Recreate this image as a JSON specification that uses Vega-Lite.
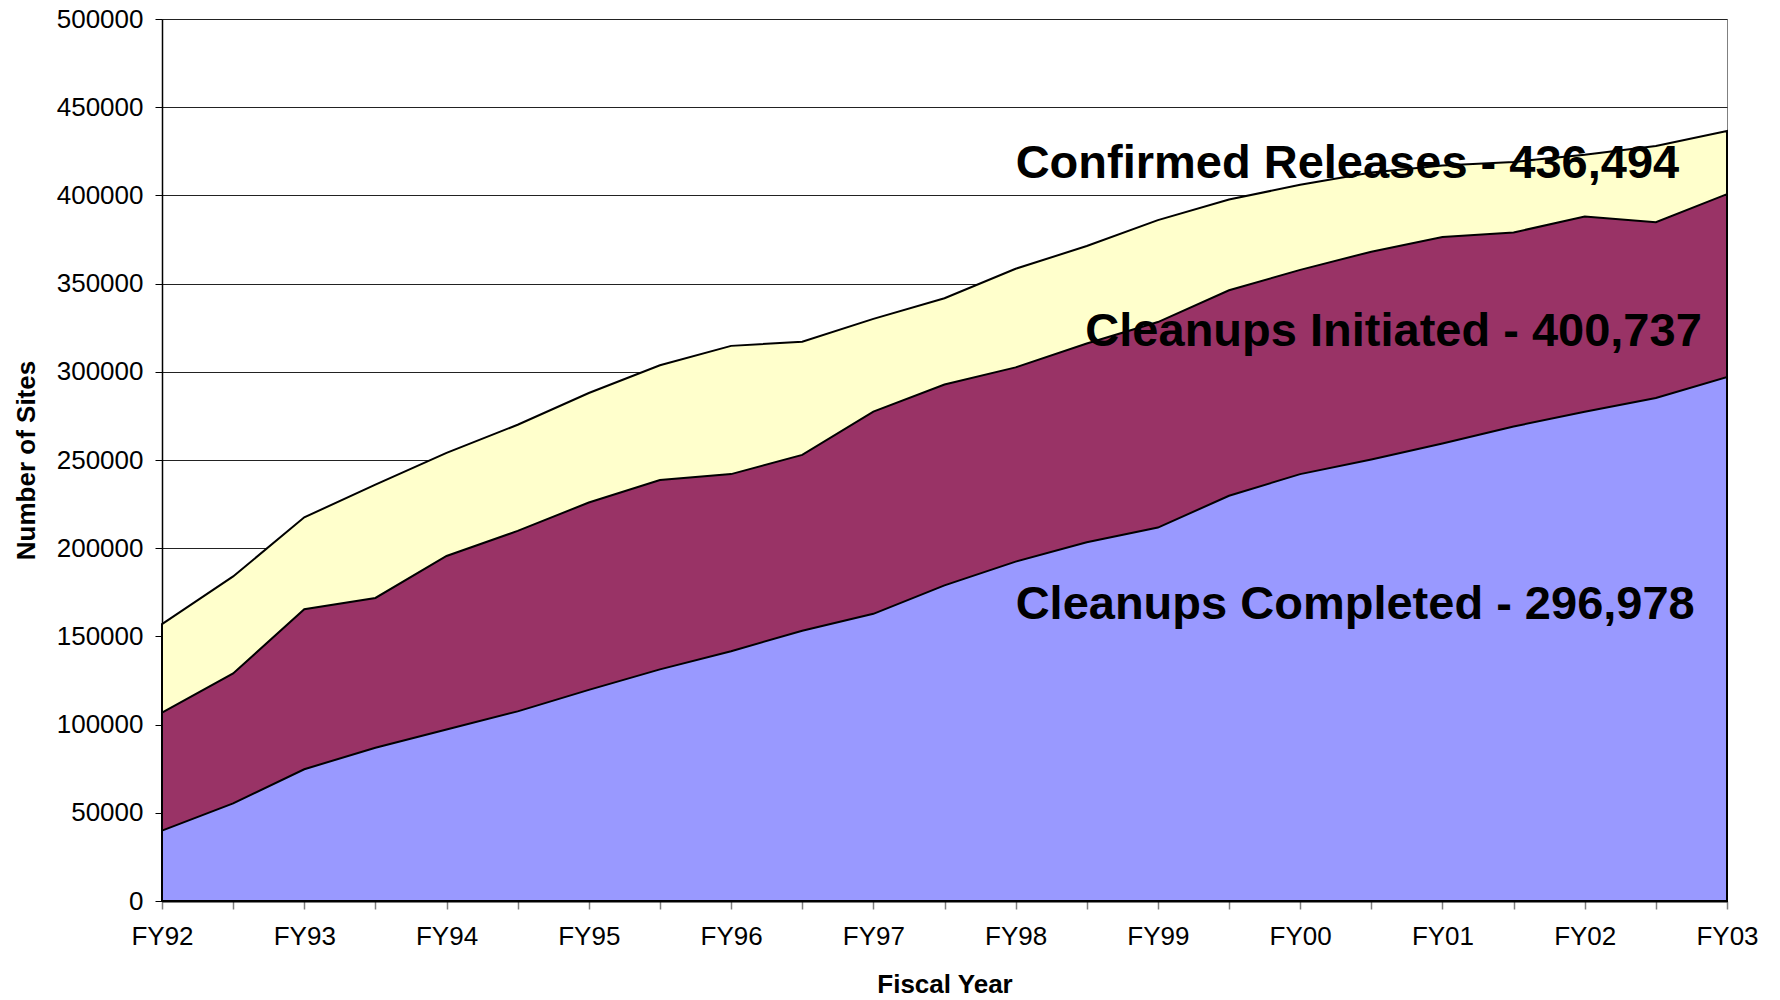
{
  "$schema": "https://vega.github.io/schema/vega-lite/v6.json",
  "width": 1565,
  "height": 882,
  "autosize": "none",
  "padding": {"left": 162, "top": 19, "right": 53, "bottom": 99},
  "background": "white",
  "config": {
    "view": {"stroke": "#808080", "strokeWidth": 1},
    "font": "Liberation Sans"
  },
  "datasets": {
    "series": [
      {"t": 0, "confirmed": 157000, "initiated": 106800, "completed": 39900},
      {"t": 1, "confirmed": 184000, "initiated": 129000, "completed": 55300},
      {"t": 2, "confirmed": 217500, "initiated": 165400, "completed": 74700},
      {"t": 3, "confirmed": 236000, "initiated": 171800, "completed": 86900},
      {"t": 4, "confirmed": 254000, "initiated": 195600, "completed": 97200},
      {"t": 5, "confirmed": 270000, "initiated": 209800, "completed": 107500},
      {"t": 6, "confirmed": 288000, "initiated": 225900, "completed": 119700},
      {"t": 7, "confirmed": 303700, "initiated": 238700, "completed": 131300},
      {"t": 8, "confirmed": 314700, "initiated": 242000, "completed": 141600},
      {"t": 9, "confirmed": 317000, "initiated": 252900, "completed": 153200},
      {"t": 10, "confirmed": 330000, "initiated": 277400, "completed": 162800},
      {"t": 11, "confirmed": 341700, "initiated": 292800, "completed": 178900},
      {"t": 12, "confirmed": 358400, "initiated": 302500, "completed": 192400},
      {"t": 13, "confirmed": 371300, "initiated": 316000, "completed": 203400},
      {"t": 14, "confirmed": 386000, "initiated": 328200, "completed": 211700},
      {"t": 15, "confirmed": 397700, "initiated": 346200, "completed": 229700},
      {"t": 16, "confirmed": 406000, "initiated": 357800, "completed": 242000},
      {"t": 17, "confirmed": 413000, "initiated": 368100, "completed": 250300},
      {"t": 18, "confirmed": 417000, "initiated": 376400, "completed": 259400},
      {"t": 19, "confirmed": 419000, "initiated": 379000, "completed": 269000},
      {"t": 20, "confirmed": 423000, "initiated": 388000, "completed": 277400},
      {"t": 21, "confirmed": 428000, "initiated": 384800, "completed": 285100},
      {"t": 22, "confirmed": 436494, "initiated": 400737, "completed": 296978}
    ],
    "labels": [
      {"t": 12, "v": 417600, "label": "Confirmed Releases - 436,494"},
      {"t": 12.98, "v": 322400, "label": "Cleanups Initiated - 400,737"},
      {"t": 12, "v": 168000, "label": "Cleanups Completed - 296,978"}
    ]
  },
  "layer": [
    {
      "data": {"name": "series"},
      "mark": {"type": "area", "color": "#FFFFCC", "stroke": "#000000", "strokeWidth": 2, "strokeJoin": "miter"},
      "encoding": {
        "x": {
          "field": "t", "type": "quantitative",
          "scale": {"domain": [0, 22], "nice": false, "zero": false},
          "axis": {
            "title": "Fiscal Year",
            "values": [0,1,2,3,4,5,6,7,8,9,10,11,12,13,14,15,16,17,18,19,20,21,22],
            "labelExpr": "datum.value % 2 == 0 ? 'FY' + (((92 + datum.value / 2) % 100) < 10 ? '0' : '') + ((92 + datum.value / 2) % 100) : ''",
            "grid": false,
            "domainColor": "#000000", "domainWidth": 2,
            "tickColor": "#808080", "tickSize": 8, "tickWidth": 1.5,
            "labelFontSize": 26, "labelColor": "#000000", "labelPadding": 14,
            "labelFlush": false, "labelOverlap": false,
            "titleFontSize": 26, "titleFontWeight": "bold", "titleColor": "#000000", "titlePadding": 22
          }
        },
        "y": {
          "field": "confirmed", "type": "quantitative",
          "scale": {"domain": [0, 500000], "nice": false},
          "axis": {
            "title": "Number of Sites",
            "values": [0,50000,100000,150000,200000,250000,300000,350000,400000,450000,500000],
            "format": "d",
            "grid": true, "gridColor": "#222222", "gridWidth": 1, "gridOpacity": 1,
            "domainColor": "#000000", "domainWidth": 1.5,
            "tickColor": "#000000", "tickSize": 7,
            "labelFontSize": 26, "labelColor": "#000000", "labelPadding": 12,
            "titleFontSize": 26, "titleFontWeight": "bold", "titleColor": "#000000", "titlePadding": 17
          }
        }
      }
    },
    {
      "data": {"name": "series"},
      "mark": {"type": "area", "color": "#993366", "stroke": "#000000", "strokeWidth": 2, "strokeJoin": "miter"},
      "encoding": {
        "x": {"field": "t", "type": "quantitative"},
        "y": {"field": "initiated", "type": "quantitative"}
      }
    },
    {
      "data": {"name": "series"},
      "mark": {"type": "area", "color": "#9999FF", "stroke": "#000000", "strokeWidth": 2, "strokeJoin": "miter"},
      "encoding": {
        "x": {"field": "t", "type": "quantitative"},
        "y": {"field": "completed", "type": "quantitative"}
      }
    },
    {
      "data": {"name": "labels"},
      "mark": {"type": "text", "align": "left", "baseline": "middle", "fontSize": 47, "fontWeight": "bold", "font": "Liberation Sans", "color": "#000000"},
      "encoding": {
        "x": {"field": "t", "type": "quantitative"},
        "y": {"field": "v", "type": "quantitative"},
        "text": {"field": "label", "type": "nominal"}
      }
    }
  ]
}
